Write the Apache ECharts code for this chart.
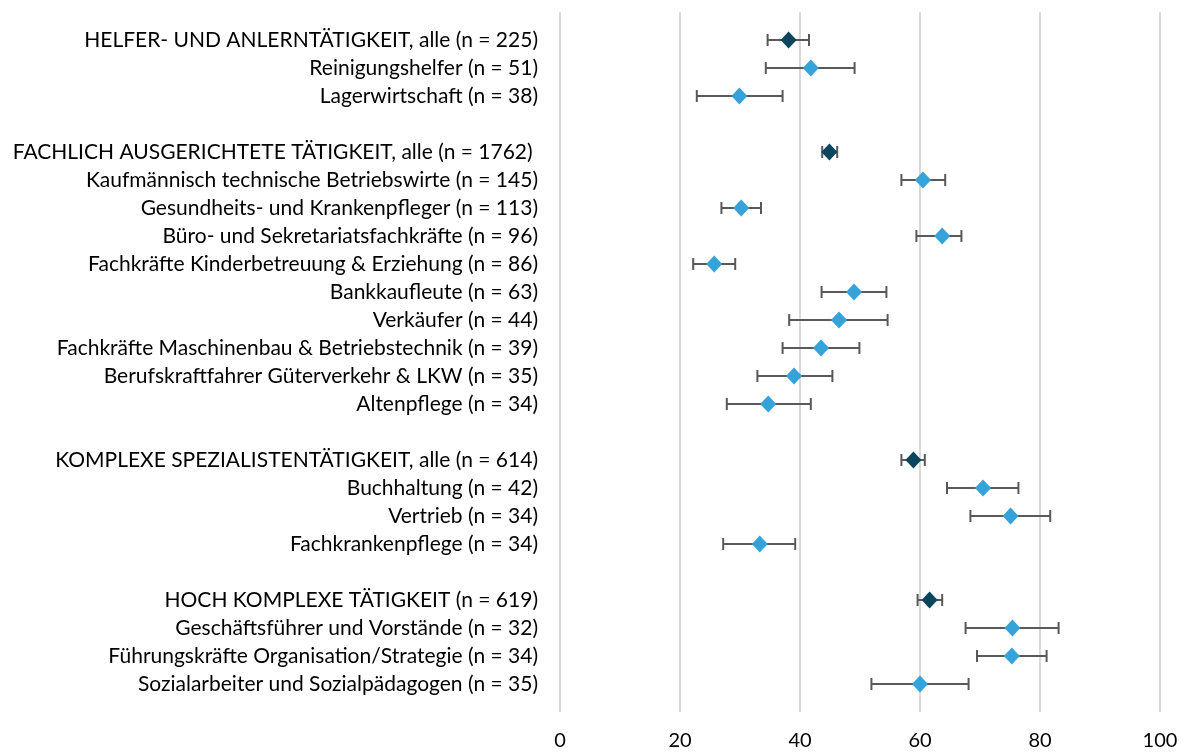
<!DOCTYPE html>
<html>
<head>
<meta charset="utf-8">
<script src="https://cdn.jsdelivr.net/npm/echarts@6/dist/echarts.min.js"></script>
<style>
html,body{margin:0;padding:0;background:#fff;}
#chart{width:1184px;height:753px;}
</style>
</head>
<body>
<div id="chart"></div>
<script>
// Row labels (top to bottom); empty strings are spacer rows
const categories = [
  'HELFER- UND ANLERNTÄTIGKEIT, alle (n = 225)',
  'Reinigungshelfer (n = 51)',
  'Lagerwirtschaft (n = 38)',
  '',
  'FACHLICH AUSGERICHTETE TÄTIGKEIT, alle (n = 1762) ',
  'Kaufmännisch technische Betriebswirte (n = 145)',
  'Gesundheits- und Krankenpfleger (n = 113)',
  'Büro- und Sekretariatsfachkräfte (n = 96)',
  'Fachkräfte Kinderbetreuung & Erziehung (n = 86)',
  'Bankkaufleute (n = 63)',
  'Verkäufer (n = 44)',
  'Fachkräfte Maschinenbau & Betriebstechnik (n = 39)',
  'Berufskraftfahrer Güterverkehr & LKW (n = 35)',
  'Altenpflege (n = 34)',
  '',
  'KOMPLEXE SPEZIALISTENTÄTIGKEIT, alle (n = 614)',
  'Buchhaltung (n = 42)',
  'Vertrieb (n = 34)',
  'Fachkrankenpflege (n = 34)',
  '',
  'HOCH KOMPLEXE TÄTIGKEIT (n = 619)',
  'Geschäftsführer und Vorstände (n = 32)',
  'Führungskräfte Organisation/Strategie (n = 34)',
  'Sozialarbeiter und Sozialpädagogen (n = 35)'
];
// 1 = group total (dark marker), 0 = occupation (light marker), null = spacer
const isTotal = [1,0,0,null,1,0,0,0,0,0,0,0,0,0,null,1,0,0,0,null,1,0,0,0];
const meanValues = [38.1,41.8,29.9,null,44.9,60.5,30.2,63.7,25.7,49.0,46.5,43.5,39.0,34.7,null,58.9,70.5,75.1,33.3,null,61.6,75.4,75.3,60.0];
const lowerValues = [34.6,34.3,22.8,null,43.7,56.9,26.9,59.4,22.2,43.6,38.2,37.1,32.9,27.8,null,56.9,64.5,68.4,27.2,null,59.6,67.6,69.5,51.9];
const upperValues = [41.5,49.1,37.1,null,46.2,64.2,33.5,66.9,29.2,54.4,54.6,49.9,45.4,41.8,null,60.8,76.4,81.7,39.2,null,63.7,83.1,81.1,68.1];
const xTicks = [0,20,40,60,80,100];

// category axis with padding slot at each end (boundaryGap false)
const yCats = [' '].concat(categories.map(function(c, i){ return c === '' ? ' '.repeat(i + 2) : c; })).concat(['  '.repeat(30)]);

const errData = [], darkData = [], lightData = [];
categories.forEach(function(c, i){
  if (meanValues[i] == null) return;
  const idx = i + 1;
  errData.push([lowerValues[i], upperValues[i], idx]);
  if (isTotal[i] === 1) darkData.push([meanValues[i], idx]);
  else lightData.push([meanValues[i], idx]);
});

const FONT = 'Lato';
const chart = echarts.init(document.getElementById('chart'), null, {renderer: 'canvas'});
chart.setOption({
  animation: false,
  backgroundColor: '#ffffff',
  grid: {left: 560, right: 24, top: 12, bottom: 41, containLabel: false},
  xAxis: {
    type: 'value', min: xTicks[0], max: xTicks[xTicks.length - 1], interval: 20,
    axisLine: {show: false}, axisTick: {show: false},
    splitLine: {show: true, lineStyle: {color: '#D9D9D9', width: 2}},
    axisLabel: {fontFamily: FONT, fontSize: 20, color: '#000', margin: 19}
  },
  yAxis: {
    type: 'category', inverse: true, boundaryGap: false, data: yCats,
    axisLine: {show: false}, axisTick: {show: false}, splitLine: {show: false},
    axisLabel: {interval: 0, fontFamily: FONT, fontSize: 21, color: '#000', margin: 22}
  },
  series: [
    {
      type: 'custom', data: errData, z: 2,
      encode: {x: [0, 1], y: 2},
      renderItem: function(params, api){
        const y = api.value(2);
        const p1 = api.coord([api.value(0), y]);
        const p2 = api.coord([api.value(1), y]);
        const h = 6;
        const st = {stroke: '#595959', lineWidth: 2};
        return {type: 'group', children: [
          {type: 'line', shape: {x1: p1[0], y1: p1[1], x2: p2[0], y2: p2[1]}, style: st},
          {type: 'line', shape: {x1: p1[0], y1: p1[1] - h, x2: p1[0], y2: p1[1] + h}, style: st},
          {type: 'line', shape: {x1: p2[0], y1: p2[1] - h, x2: p2[0], y2: p2[1] + h}, style: st}
        ]};
      }
    },
    {type: 'scatter', data: darkData, symbol: 'diamond', symbolSize: [16, 17], z: 5,
     itemStyle: {color: '#0C465E', opacity: 1}},
    {type: 'scatter', data: lightData, symbol: 'diamond', symbolSize: [16, 17], z: 5,
     itemStyle: {color: '#35A3D9', opacity: 1}}
  ]
});
</script>
</body>
</html>
